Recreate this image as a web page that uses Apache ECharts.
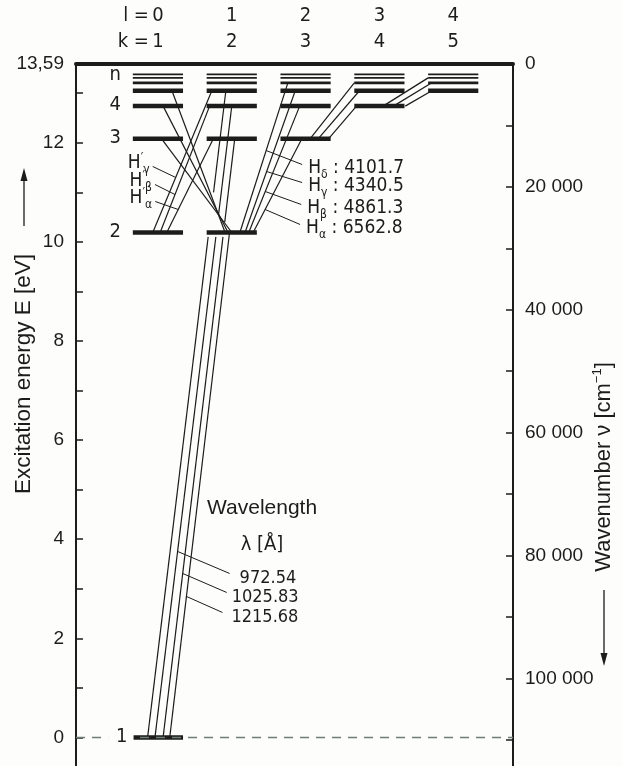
<!DOCTYPE html>
<html>
<head>
<meta charset="utf-8">
<script src="https://cdn.jsdelivr.net/npm/echarts@6/dist/echarts.min.js"></script>
<style>
  html, body { margin: 0; padding: 0; background: #fdfdfb; overflow: hidden; }
  #chart { width: 622px; height: 787px; }
</style>
</head>
<body>
<div id="chart"></div>
<script>
// hydrogen term scheme (Grotrian diagram)
const levelN = [1, 2, 3, 4, 5, 6, 7, 8]
const levelE = [0, 10.19, 12.08, 12.74, 13.05, 13.21, 13.31, 13.38] // eV
const ionization = 13.59
const columnL = [0, 1, 2, 3, 4]
const columnK = [1, 2, 3, 4, 5]
const levelLabels = [['1', 1], ['2', 2], ['3', 3], ['4', 4], ['n', 7]]

// transitions: [lower l, lower n, upper l, upper n]
const lyman = [[0, 1, 1, 2], [0, 1, 1, 3], [0, 1, 1, 4], [0, 1, 1, 5]]
const balmerPS = [[0, 2, 1, 3], [0, 2, 1, 4], [0, 2, 1, 5]]
const balmerSP = [[1, 2, 0, 3], [1, 2, 0, 4], [1, 2, 0, 5]]
const balmerDP = [[1, 2, 2, 3], [1, 2, 2, 4], [1, 2, 2, 5], [1, 2, 2, 6]]
const fLines = [[2, 3, 3, 4], [2, 3, 3, 5], [2, 3, 3, 6]]
const gLines = [[3, 4, 4, 5], [3, 4, 4, 6], [3, 4, 4, 7]]

// wavelengths in Angstrom
const lymanLambda = ['1215.68', '1025.83', '972.54']
const balmerLambda = ['6562.8', '4861.3', '4340.5', '4101.7']
const greek = ['α', 'β', 'γ', 'δ']

const eVtoCm = 8065.54
const energyMin = -1

// ---- layout only: where each line leaves / meets the bars (in column units)
const barHalf = 0.34
const lymanEnds = [[0.16, -0.03], [0.07, 0.04], [-0.04, 0], [-0.14, -0.08]]
// Lyman lines are interrupted where the Balmer lines gather (energy range, eV)
const lymanGaps = [null, [10.1, 10.4], [10.1, 10.55], [10.1, 11.0]]
const psEnds = [[0.12, -0.25], [0.03, -0.30], [-0.07, -0.27]]
const spEnds = [[0, 0.05], [-0.05, 0.07], [-0.09, 0.19]]
const dpEnds = [[0.29, -0.05], [0.23, -0.08], [0.18, -0.14], [0.11, -0.24]]
const fEnds = [[0.31, -0.31], [0.17, -0.27], [0.06, -0.34]]
const gEnds = [[0.35, -0.29], [0.19, -0.29], [0.05, -0.34]]

const ink = '#1c1c1c'
const paper = '#fdfdfb'
const din = "'DejaVu Sans Condensed', 'Liberation Sans Narrow', 'DejaVu Sans', sans-serif"
const sans = "'Liberation Sans', Arial, sans-serif"

const energyOf = n => levelE[levelN.indexOf(n)]

const levelData = []
columnL.forEach(l => {
  levelN.forEach(n => {
    if (n > l) levelData.push([l, energyOf(n), n])
  })
})

function segments(list, ends, gaps) {
  return list.map((t, i) => {
    const g = gaps && gaps[i] ? gaps[i] : [NaN, NaN]
    return [t[0] + ends[i][0], energyOf(t[1]), t[2] + ends[i][1], energyOf(t[3]), g[0], g[1]]
  })
}
const lymanSeg = segments(lyman, lymanEnds, lymanGaps)
const psSeg = segments(balmerPS, psEnds)
const spSeg = segments(balmerSP, spEnds)
const dpSeg = segments(balmerDP, dpEnds)
const transitionData = [].concat(lymanSeg, psSeg, spSeg, dpSeg, segments(fLines, fEnds), segments(gLines, gEnds))

const chart = echarts.init(document.getElementById('chart'))

const option = {
  animation: false,
  backgroundColor: paper,
  grid: { left: 76, right: 109, top: 64, bottom: 0, containLabel: false, outerBoundsMode: 'none' },
  xAxis: {
    type: 'value',
    position: 'top',
    min: -1.11,
    max: 4.81,
    axisLine: { show: true, onZero: false, lineStyle: { color: ink, width: 4 } },
    axisTick: { show: false },
    axisLabel: { show: false },
    splitLine: { show: false },
  },
  yAxis: [
    {
      type: 'value',
      position: 'left',
      min: energyMin,
      max: ionization,
      interval: 1,
      axisLine: { show: true, onZero: false, lineStyle: { color: ink, width: 2 } },
      axisTick: { show: true, inside: true, length: 7, lineStyle: { color: ink, width: 1.5 } },
      axisLabel: {
        margin: 12,
        color: ink,
        fontSize: 19,
        fontFamily: sans,
        showMaxLabel: true,
        formatter: v => {
          if (Math.abs(v - ionization) < 1e-6) return '13,59'
          const r = Math.round(v)
          if (Math.abs(v - r) < 1e-6 && r >= 0 && r % 2 === 0) return String(r)
          return ''
        },
      },
      splitLine: { show: false },
    },
    {
      type: 'value',
      position: 'right',
      inverse: true,
      min: 0,
      max: (ionization - energyMin) * eVtoCm,
      interval: 10000,
      axisLine: { show: true, onZero: false, lineStyle: { color: ink, width: 2 } },
      axisTick: { show: true, inside: true, length: 7, lineStyle: { color: ink, width: 1.5 } },
      axisLabel: {
        margin: 12,
        color: ink,
        fontSize: 19,
        fontFamily: sans,
        showMaxLabel: false,
        formatter: v => {
          const r = Math.round(v)
          if (r % 20000 !== 0 || r > 100000) return ''
          return r === 0 ? '0' : String(r).replace(/(\d)(?=(\d{3})+$)/g, '$1 ')
        },
      },
      splitLine: { show: false },
    },
  ],
  series: [
    {
      // dashed ground level line
      type: 'line',
      data: [],
      z: 1,
      markLine: {
        silent: true,
        symbol: 'none',
        label: { show: false },
        lineStyle: { color: '#6f7c76', type: [9, 7], width: 1.3 },
        data: [{ yAxis: 0 }],
      },
    },
    {
      type: 'custom',
      name: 'transitions',
      z: 3,
      data: transitionData,
      encode: { x: [0, 2], y: [1, 3] },
      renderItem(params, api) {
        const p1 = api.coord([api.value(0), api.value(1)])
        const p2 = api.coord([api.value(2), api.value(3)])
        const style = { stroke: ink, lineWidth: 1.2 }
        const gLo = api.value(4)
        const gHi = api.value(5)
        if (isNaN(gLo)) {
          return { type: 'line', shape: { x1: p1[0], y1: p1[1], x2: p2[0], y2: p2[1] }, style }
        }
        const at = e => {
          const y = api.coord([0, e])[1]
          const t = (y - p1[1]) / (p2[1] - p1[1])
          return [p1[0] + t * (p2[0] - p1[0]), y]
        }
        const a = at(gLo)
        const b = at(gHi)
        return {
          type: 'group',
          children: [
            { type: 'line', shape: { x1: p1[0], y1: p1[1], x2: a[0], y2: a[1] }, style },
            { type: 'line', shape: { x1: b[0], y1: b[1], x2: p2[0], y2: p2[1] }, style },
          ],
        }
      },
    },
    {
      type: 'custom',
      name: 'levels',
      z: 4,
      data: levelData,
      encode: { x: 0, y: 1 },
      renderItem(params, api) {
        const c = api.coord([api.value(0), api.value(1)])
        const hw = api.size([barHalf, 0])[0]
        const n = api.value(2)
        return {
          type: 'line',
          shape: { x1: c[0] - hw, y1: c[1], x2: c[0] + hw, y2: c[1] },
          style: { stroke: ink, lineWidth: n <= 5 ? 4.5 : (n === 6 ? 2.6 : 1.8) },
        }
      },
    },
  ],
}

chart.setOption(option)

// ---- annotations, placed from the data coordinates
const toPx = (x, y) => chart.convertToPixel({ xAxisIndex: 0, yAxisIndex: 0 }, [x, y])

function touchPoint(seg, e) {
  const a = toPx(seg[0], seg[1])
  const b = toPx(seg[2], seg[3])
  const y = toPx(0, e)[1]
  const t = (y - a[1]) / (b[1] - a[1])
  return [a[0] + t * (b[0] - a[0]), y]
}

const graphics = []
const textEl = (x, y, text, font, align, extra) => ({
  type: 'text', x, y, silent: true, z: 20,
  style: Object.assign({ text, fill: ink, font, align: align || 'center', verticalAlign: 'middle' }, extra || {}),
})

// column headers
columnL.forEach((l, i) => {
  const cx = toPx(l, 0)[0]
  graphics.push(textEl(cx, 16, String(l), '20px ' + din))
  graphics.push(textEl(cx, 42, String(columnK[i]), '20px ' + din))
})
const c0 = toPx(0, 0)[0]
graphics.push(textEl(c0 - 9, 16, 'l =', '20px ' + din, 'right'))
graphics.push(textEl(c0 - 9, 42, 'k =', '20px ' + din, 'right'))

// level labels
levelLabels.forEach(([txt, n]) => {
  const p = toPx(0, energyOf(n))
  const extra = n === 1 ? { backgroundColor: paper, padding: [0, 6, 0, 8] } : {}
  graphics.push(textEl(p[0] - barHalf * 73.8 - 12, p[1] - (txt === 'n' ? 3 : 1), txt, '20px ' + din, n === 1 ? 'center' : 'right', extra))
})

const richH = {
  h: { fontSize: 19, fontFamily: din, lineHeight: 24, fill: ink },
  s: { fontSize: 12, fontFamily: din, lineHeight: 11, verticalAlign: 'bottom', fill: ink },
  p: { fontSize: 13, fontFamily: din, lineHeight: 12, verticalAlign: 'top', fill: ink },
  t: { fontSize: 19, fontFamily: din, lineHeight: 24, fill: ink },
}
function pointer(seg, e, dx, dy) {
  const p = touchPoint(seg, e)
  graphics.push({
    type: 'line', silent: true, z: 20,
    shape: { x1: p[0], y1: p[1], x2: p[0] + dx, y2: p[1] + dy },
    style: { stroke: ink, lineWidth: 1 },
  })
  return [p[0] + dx, p[1] + dy]
}

// pointer notes: [line index, energy where the pointer meets it, end dx, end dy]
// H' (np -> 2s)
const hPrime = [[0, 10.654, -23, -8], [1, 10.956, -20, -10], [2, 11.30, -23, -11]]
hPrime.forEach(([i, e, dx, dy]) => {
  const end = pointer(psSeg[i], e, dx, dy)
  graphics.push({
    type: 'text', silent: true, z: 20, x: end[0] - 3, y: end[1] - 3,
    style: { text: '{h|H}{p|′}{s|' + greek[i] + '}', rich: richH, align: 'right', verticalAlign: 'middle' },
  })
})

// Balmer nd -> 2p
const hRight = [[0, 10.654, 35, 15], [1, 11.017, 36, 13], [2, 11.42, 35.5, 11], [3, 11.844, 36, 14]]
hRight.forEach(([i, e, dx, dy]) => {
  const end = pointer(dpSeg[i], e, dx, dy)
  graphics.push({
    type: 'text', silent: true, z: 20, x: end[0] + 6, y: end[1] + 4,
    style: { text: '{h|H}{s|' + greek[i] + '}{t| : ' + balmerLambda[i] + '}', rich: richH, align: 'left', verticalAlign: 'middle' },
  })
})

// Lyman lines
const lyNotes = [[0, 2.845, 36, 16, 9], [1, 3.309, 44, 19, 5], [2, 3.753, 52, 22, 10]]
lyNotes.forEach(([i, e, dx, dy, lx]) => {
  const end = pointer(lymanSeg[i], e, dx, dy)
  graphics.push(textEl(end[0] + lx, end[1] + 5, lymanLambda[i], '18px ' + din, 'left'))
})

graphics.push(textEl(207, 508, 'Wavelength', '21px ' + sans, 'left'))
graphics.push(textEl(262, 545, 'λ [Å]', '20px ' + din))

// axis titles with arrows
graphics.push({
  type: 'text', silent: true, z: 20, x: 24, y: 374, rotation: Math.PI / 2,
  style: { text: 'Excitation energy E [eV]', fill: ink, font: '22.5px ' + sans, align: 'center', verticalAlign: 'middle' },
})
graphics.push({ type: 'line', silent: true, shape: { x1: 24, y1: 226, x2: 24, y2: 178 }, style: { stroke: ink, lineWidth: 1.3 } })
graphics.push({ type: 'polygon', silent: true, shape: { points: [[24, 168], [20.5, 181], [27.5, 181]] }, style: { fill: ink } })

graphics.push({
  type: 'text', silent: true, z: 20, x: 604, y: 467, rotation: Math.PI / 2,
  style: {
    text: '{a|Wavenumber ν [cm}{b|−1}{a|]}',
    rich: {
      a: { fontSize: 22, fontFamily: sans, lineHeight: 26, fill: ink },
      b: { fontSize: 13, fontFamily: sans, lineHeight: 13, verticalAlign: 'top', fill: ink },
    },
    align: 'center', verticalAlign: 'middle',
  },
})
graphics.push({ type: 'line', silent: true, shape: { x1: 604, y1: 590, x2: 604, y2: 655 }, style: { stroke: ink, lineWidth: 1.3 } })
graphics.push({ type: 'polygon', silent: true, shape: { points: [[604, 666], [600.5, 653], [607.5, 653]] }, style: { fill: ink } })

chart.setOption({ graphic: graphics })
</script>
</body>
</html>
